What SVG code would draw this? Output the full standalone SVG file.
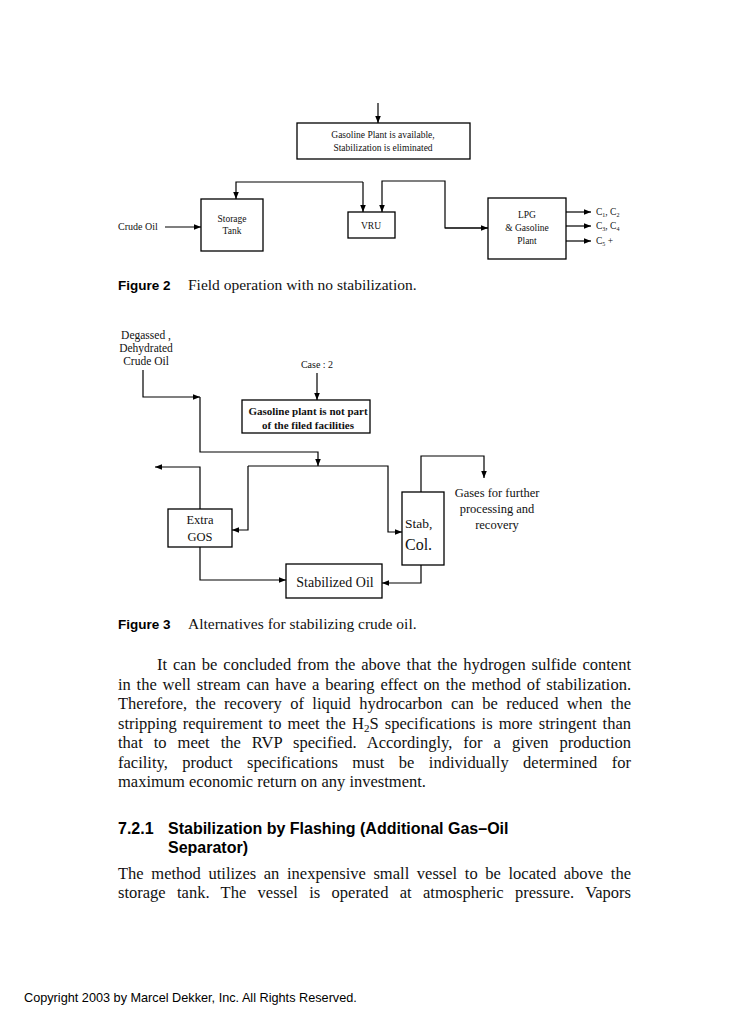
<svg xmlns="http://www.w3.org/2000/svg" width="735" height="1024" viewBox="0 0 735 1024">
<defs>
<marker id="ah" viewBox="0 0 10 10" refX="10" refY="5" markerWidth="7" markerHeight="7" markerUnits="userSpaceOnUse" orient="auto">
<path d="M0,1 L10,5 L0,9 Z" fill="#000"/>
</marker>
</defs>
<style>
.box{fill:#fff;stroke:#000;stroke-width:1.3}
.ln{fill:none;stroke:#000;stroke-width:1.2}
.s{font-family:"Liberation Serif",serif;fill:#111}
.sans{font-family:"Liberation Sans",Arial,sans-serif;fill:#000}
.f9{font-size:9.5px}
.body{font-size:16.5px}
.cap{font-size:15.5px}
</style>
<rect width="735" height="1024" fill="#fff"/>

<!-- Figure 2 -->
<g id="fig2-connectors">
<path class="ln" d="M378,103 V123" marker-end="url(#ah)"/>
<path class="ln" d="M165,227 H201" marker-end="url(#ah)"/>
<path class="ln" d="M363,182 H236 V199" marker-end="url(#ah)"/>
<path class="ln" d="M363,182 V212" marker-end="url(#ah)"/>
<path class="ln" d="M488,228 H445 V181 H382 V212" marker-end="url(#ah)"/>
<path class="ln" d="M445,228 H488" marker-end="url(#ah)"/>
<path class="ln" d="M566,212 H591" marker-end="url(#ah)"/>
<path class="ln" d="M566,226 H591" marker-end="url(#ah)"/>
<path class="ln" d="M566,241 H591" marker-end="url(#ah)"/>
</g>
<g id="gasoline-available">
<rect class="box" x="297" y="123" width="173" height="36"/>
<text class="s f9" x="383" y="138" text-anchor="middle">Gasoline Plant is available,</text>
<text class="s f9" x="383" y="151" text-anchor="middle">Stabilization is eliminated</text>
</g>
<g id="crude-oil-label">
<text class="s" font-size="10" x="118" y="230">Crude Oil</text>
</g>
<g id="storage-tank">
<rect class="box" x="201" y="199" width="62" height="52"/>
<text class="s f9" x="232" y="222" text-anchor="middle">Storage</text>
<text class="s f9" x="232" y="234" text-anchor="middle">Tank</text>
</g>
<g id="vru">
<rect class="box" x="348" y="212" width="47" height="26"/>
<text class="s f9" x="371" y="229" text-anchor="middle">VRU</text>
</g>
<g id="lpg-plant">
<rect class="box" x="488" y="198" width="78" height="61"/>
<text class="s f9" x="527" y="218" text-anchor="middle">LPG</text>
<text class="s f9" x="527" y="231" text-anchor="middle">&amp; Gasoline</text>
<text class="s f9" x="527" y="244" text-anchor="middle">Plant</text>
</g>
<g id="outputs">
<text class="s f9" x="596" y="215">C<tspan font-size="6" dy="2">1</tspan><tspan dy="-2">, C</tspan><tspan font-size="6" dy="2">2</tspan></text>
<text class="s f9" x="596" y="229">C<tspan font-size="6" dy="2">3</tspan><tspan dy="-2">, C</tspan><tspan font-size="6" dy="2">4</tspan></text>
<text class="s f9" x="596" y="244">C<tspan font-size="6" dy="2">5</tspan><tspan dy="-2"> +</tspan></text>
</g>
<g id="caption2">
<text x="118" y="290"><tspan class="sans" font-size="13.5" font-weight="bold">Figure 2</tspan><tspan class="s cap" x="188">Field operation with no stabilization.</tspan></text>
</g>

<!-- Figure 3 -->
<g id="fig3-connectors">
<path class="ln" d="M143,370 V397 H200" marker-end="url(#ah)"/>
<path class="ln" d="M200,397 V452 H318 V466" marker-end="url(#ah)"/>
<path class="ln" d="M317,373 V400" marker-end="url(#ah)"/>
<path class="ln" d="M248,466 H388 V532 H402" marker-end="url(#ah)"/>
<path class="ln" d="M248,466 V530 H232" marker-end="url(#ah)"/>
<path class="ln" d="M200,509 V467 H155" marker-end="url(#ah)"/>
<path class="ln" d="M200,547 V580 H286" marker-end="url(#ah)"/>
<path class="ln" d="M421,565 V583 H382" marker-end="url(#ah)"/>
<path class="ln" d="M421,492 V456 H484 V478" marker-end="url(#ah)"/>
</g>
<g id="crude-input">
<text class="s" font-size="11.5" x="146" y="339" text-anchor="middle">Degassed ,</text>
<text class="s" font-size="11.5" x="146" y="352" text-anchor="middle">Dehydrated</text>
<text class="s" font-size="11.5" x="146" y="365" text-anchor="middle">Crude Oil</text>
</g>
<g id="case2">
<text class="s" font-size="10" x="317" y="368" text-anchor="middle">Case : 2</text>
</g>
<g id="gasoline-not-part">
<rect class="box" x="242" y="400" width="128" height="33" stroke-width="1.5"/>
<text class="s" font-size="11" font-weight="bold" x="308" y="415" text-anchor="middle">Gasoline plant is not part</text>
<text class="s" font-size="11" font-weight="bold" x="308" y="429" text-anchor="middle">of the filed facilities</text>
</g>
<g id="extra-gos">
<rect class="box" x="168" y="509" width="64" height="38"/>
<text class="s" font-size="12.5" x="200" y="524" text-anchor="middle">Extra</text>
<text class="s" font-size="12.5" x="200" y="541" text-anchor="middle">GOS</text>
</g>
<g id="stab-col">
<rect class="box" x="402" y="492" width="42" height="73"/>
<text class="s" font-size="13.5" x="405" y="528">Stab,</text>
<text class="s" font-size="16" x="405" y="550">Col.</text>
</g>
<g id="stabilized-oil">
<rect class="box" x="286" y="564" width="96" height="34"/>
<text class="s" font-size="14" x="335" y="587" text-anchor="middle">Stabilized Oil</text>
</g>
<g id="gases">
<text class="s" font-size="12.5" x="497" y="497" text-anchor="middle">Gases for further</text>
<text class="s" font-size="12.5" x="497" y="513" text-anchor="middle">processing and</text>
<text class="s" font-size="12.5" x="497" y="529" text-anchor="middle">recovery</text>
</g>
<g id="caption3">
<text x="118" y="629"><tspan class="sans" font-size="13.5" font-weight="bold">Figure 3</tspan><tspan class="s cap" x="188">Alternatives for stabilizing crude oil.</tspan></text>
</g>

<!-- Body text -->
<g id="body">
<text class="s body" x="157" y="670" word-spacing="1.8" textLength="474" lengthAdjust="spacing">It can be concluded from the above that the hydrogen sulfide content</text>
<text class="s body" x="118" y="690" word-spacing="1.7" textLength="513" lengthAdjust="spacing">in the well stream can have a bearing effect on the method of stabilization.</text>
<text class="s body" x="118" y="709" word-spacing="4.2" textLength="513" lengthAdjust="spacing">Therefore, the recovery of liquid hydrocarbon can be reduced when the</text>
<text class="s body" x="118" y="729" word-spacing="2" textLength="513" lengthAdjust="spacing">stripping requirement to meet the H<tspan font-size="11" dy="3">2</tspan><tspan dy="-3">S specifications is more stringent than</tspan></text>
<text class="s body" x="118" y="748" word-spacing="6.9" textLength="513" lengthAdjust="spacing">that to meet the RVP specified. Accordingly, for a given production</text>
<text class="s body" x="118" y="768" word-spacing="10.3" textLength="513" lengthAdjust="spacing">facility, product specifications must be individually determined for</text>
<text class="s body" x="118" y="787">maximum economic return on any investment.</text>
</g>
<g id="heading">
<text class="sans" font-size="16" font-weight="bold" x="118" y="834">7.2.1</text>
<text class="sans" font-size="16" font-weight="bold" x="168" y="834">Stabilization by Flashing (Additional Gas–Oil</text>
<text class="sans" font-size="16" font-weight="bold" x="168" y="853">Separator)</text>
</g>
<g id="para2">
<text class="s body" x="118" y="879" word-spacing="3.5" textLength="513" lengthAdjust="spacing">The method utilizes an inexpensive small vessel to be located above the</text>
<text class="s body" x="118" y="898" word-spacing="7.2" textLength="513" lengthAdjust="spacing">storage tank. The vessel is operated at atmospheric pressure. Vapors</text>
</g>
<g id="copyright">
<text class="sans" font-size="12.7" x="24" y="1002">Copyright 2003 by Marcel Dekker, Inc. All Rights Reserved.</text>
</g>
</svg>
